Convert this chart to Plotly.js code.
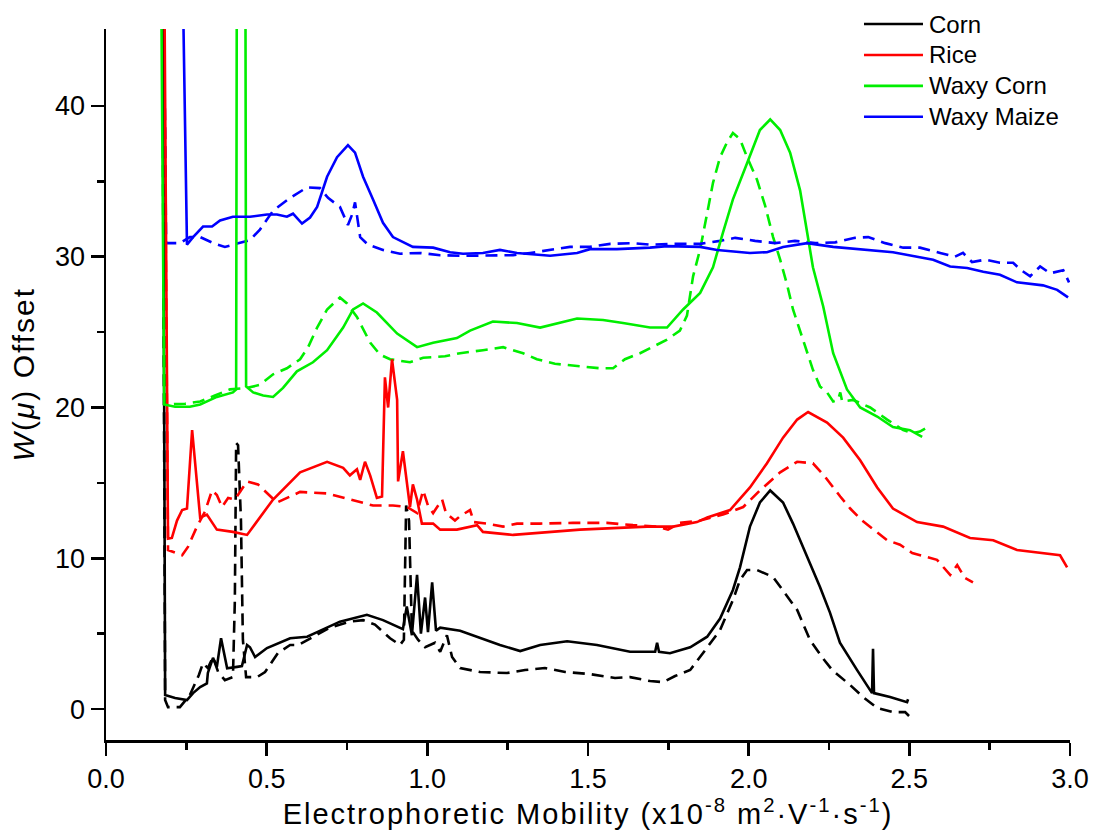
<!DOCTYPE html>
<html>
<head>
<meta charset="utf-8">
<script src="https://cdn.plot.ly/plotly-3.0.1.min.js"></script>
<style>
html,body{margin:0;padding:0;background:#fff;}
#chart{width:1093px;height:832px;}
.xtitle,.ytitle{letter-spacing:2px;}
</style>
</head>
<body>
<div id="chart"></div>
<script>
// ---------- data ----------
const seriesNames = ["Corn", "Rice", "Waxy Corn", "Waxy Maize"];

// Corn (solid)
const cornX = [0.175,0.184,0.215,0.252,0.271,0.293,0.314,0.317,0.333,0.345,0.358,0.377,0.408,0.423,0.439,0.448,0.464,0.501,0.573,0.626,0.657,0.728,0.812,0.862,0.924,0.936,0.952,0.968,0.980,0.993,1.002,1.015,1.027,1.040,1.102,1.164,1.226,1.289,1.351,1.435,1.528,1.631,1.709,1.715,1.721,1.755,1.818,1.871,1.911,1.951,1.973,2.004,2.035,2.067,2.107,2.138,2.182,2.222,2.253,2.284,2.337,2.384,2.387,2.390,2.440,2.493,2.496];
const cornY = [60,0.93,0.73,0.6,1.06,1.46,1.7,2.4,3.4,2.8,4.7,2.7,2.8,2.85,4.25,4.1,3.45,4.05,4.7,4.8,5.1,5.8,6.25,5.9,5.3,6.8,4.9,8.9,5.0,7.4,5.1,8.4,5.2,5.4,5.2,4.7,4.25,3.85,4.25,4.5,4.25,3.8,3.8,4.4,3.8,3.7,4.1,4.8,6.0,7.9,9.4,12.1,13.7,14.5,13.7,12.3,10.1,8.1,6.4,4.4,2.6,1.06,4.0,1.06,0.8,0.46,0.65];

// Corn (dashed)
const cornDashX = [0.173,0.184,0.193,0.230,0.261,0.289,0.302,0.317,0.333,0.349,0.370,0.395,0.401,0.405,0.411,0.420,0.426,0.436,0.470,0.495,0.535,0.573,0.598,0.635,0.697,0.759,0.800,0.837,0.884,0.915,0.927,0.934,0.943,0.952,0.971,0.993,1.024,1.040,1.061,1.077,1.102,1.164,1.248,1.304,1.366,1.429,1.506,1.584,1.631,1.693,1.734,1.771,1.818,1.865,1.911,1.951,1.973,1.995,2.026,2.076,2.120,2.151,2.191,2.228,2.260,2.316,2.356,2.400,2.449,2.487,2.512];
const cornDashY = [60,0.6,0.13,0.13,0.93,2.26,3.05,2.72,3.45,2.46,1.92,2.12,7.2,17.65,17.5,12.5,4.6,2.12,2.12,2.46,3.72,4.25,4.25,4.7,5.4,5.8,5.9,5.6,4.7,4.25,4.6,13.5,12.5,5.2,4.6,4.1,4.4,3.8,4.9,3.45,2.72,2.46,2.39,2.59,2.72,2.46,2.32,2.06,2.12,1.86,1.79,2.19,2.59,3.92,5.24,7.23,8.56,9.22,9.22,8.76,7.43,6.57,4.58,3.45,2.59,1.59,0.8,0.07,-0.2,-0.2,-0.73];

// Rice (solid)
const riceX = [0.178,0.193,0.205,0.221,0.237,0.252,0.268,0.283,0.293,0.314,0.345,0.395,0.439,0.520,0.604,0.688,0.738,0.759,0.781,0.791,0.806,0.822,0.843,0.859,0.868,0.878,0.890,0.906,0.909,0.924,0.937,0.946,0.955,0.968,0.983,1.018,1.040,1.092,1.155,1.173,1.267,1.373,1.475,1.578,1.684,1.765,1.839,1.871,1.942,2.004,2.057,2.107,2.151,2.185,2.244,2.294,2.347,2.400,2.449,2.524,2.605,2.689,2.761,2.835,2.916,2.969,2.991];
const riceY = [60,11.3,11.35,12.5,13.2,13.3,18.5,15.2,12.7,12.9,11.9,11.75,11.55,13.9,15.7,16.4,16.0,15.5,15.9,15.2,16.4,15.5,14.0,14.1,22.0,20.0,23.2,20.5,15.1,17.1,14.7,13.4,14.9,13.9,12.3,12.3,11.9,11.9,12.2,11.75,11.55,11.75,11.9,12.0,12.1,12.1,12.4,12.7,13.2,14.7,16.3,18.0,19.2,19.7,19.0,18.0,16.5,14.7,13.3,12.4,12.1,11.35,11.2,10.55,10.35,10.2,9.4];

// Rice (dashed)
const riceDashX = [0.176,0.193,0.237,0.255,0.283,0.308,0.330,0.345,0.361,0.380,0.401,0.439,0.473,0.501,0.532,0.573,0.604,0.688,0.744,0.791,0.831,0.893,0.937,0.968,0.987,1.002,1.018,1.046,1.058,1.086,1.102,1.133,1.145,1.186,1.236,1.279,1.351,1.453,1.559,1.640,1.715,1.749,1.786,1.849,1.920,1.983,2.035,2.098,2.151,2.200,2.238,2.285,2.316,2.353,2.400,2.431,2.471,2.509,2.586,2.627,2.649,2.673,2.698];
const riceDashY = [60,10.55,10.2,10.75,12.1,13.1,14.5,14.2,13.4,14.0,13.9,15.1,14.9,14.3,13.7,14.1,14.4,14.3,14.0,13.7,13.5,13.5,13.4,13.0,14.5,13.5,13.0,13.9,13.0,12.5,12.8,13.2,12.4,12.3,12.1,12.3,12.3,12.35,12.35,12.2,12.1,11.9,12.35,12.5,12.9,13.4,14.5,15.7,16.4,16.3,15.4,14.1,13.3,12.5,11.7,11.2,10.9,10.35,9.9,8.9,9.55,8.7,8.4];

// Waxy Corn (solid)
const waxyCornX = [0.168,0.181,0.215,0.261,0.293,0.345,0.395,0.405,0.408,0.433,0.436,0.458,0.489,0.520,0.551,0.594,0.644,0.688,0.738,0.769,0.800,0.843,0.906,0.968,1.018,1.092,1.133,1.204,1.279,1.351,1.466,1.547,1.609,1.693,1.746,1.796,1.849,1.889,1.920,1.951,1.995,2.035,2.067,2.098,2.129,2.160,2.182,2.200,2.232,2.263,2.306,2.347,2.400,2.449,2.502,2.540];
const waxyCornY = [60,20.2,20.05,20.05,20.2,20.7,21.0,21.2,60,60,21.4,21.0,20.8,20.7,21.3,22.4,23.0,23.8,25.3,26.5,26.9,26.3,24.9,24.0,24.3,24.6,25.1,25.7,25.6,25.3,25.9,25.8,25.6,25.3,25.3,26.5,27.6,29.3,31.6,33.8,36.2,38.4,39.1,38.4,36.9,34.4,31.6,29.3,26.7,23.6,21.2,20.0,19.4,18.7,18.5,18.05];

// Waxy Corn (dashed)
const waxyCornDashX = [0.174,0.187,0.246,0.293,0.339,0.386,0.439,0.479,0.520,0.563,0.604,0.629,0.657,0.688,0.728,0.750,0.781,0.822,0.853,0.884,0.946,0.987,1.055,1.102,1.173,1.236,1.298,1.341,1.397,1.485,1.538,1.578,1.615,1.662,1.746,1.786,1.808,1.827,1.849,1.871,1.889,1.911,1.933,1.951,1.973,1.995,2.026,2.051,2.076,2.098,2.120,2.138,2.160,2.182,2.200,2.222,2.244,2.263,2.278,2.285,2.291,2.325,2.347,2.378,2.431,2.481,2.509,2.533,2.549];
const waxyCornDashY = [60,20.2,20.25,20.4,20.8,21.2,21.3,21.5,22.2,22.6,23.2,24.0,25.3,26.5,27.3,26.9,26.0,24.3,23.5,23.2,23.0,23.3,23.4,23.6,23.8,24.0,23.6,23.2,22.9,22.7,22.6,22.6,23.2,23.6,24.5,25.1,26.1,28.7,30.5,32.9,34.9,36.6,37.6,38.2,37.8,36.6,35.1,33.4,31.3,29.8,28.1,26.5,25.1,23.8,22.5,21.4,21.0,20.4,20.5,21.0,20.4,20.5,20.3,20.0,19.2,18.5,18.3,18.4,18.6];

// Waxy Maize (solid)
const waxyMaizeX = [0.230,0.252,0.271,0.302,0.330,0.355,0.395,0.448,0.501,0.532,0.563,0.582,0.610,0.635,0.657,0.688,0.719,0.753,0.775,0.800,0.831,0.862,0.893,0.955,1.018,1.071,1.111,1.173,1.226,1.279,1.382,1.466,1.506,1.590,1.693,1.746,1.849,1.902,2.004,2.057,2.107,2.182,2.263,2.368,2.449,2.524,2.574,2.627,2.680,2.730,2.782,2.835,2.916,2.960,2.994];
const waxyMaizeY = [60,30.8,31.3,32.0,32.0,32.4,32.65,32.65,32.8,32.8,32.65,32.85,32.2,32.6,33.3,35.3,36.6,37.4,36.9,35.3,33.8,32.25,31.3,30.65,30.6,30.3,30.2,30.25,30.45,30.25,30.06,30.25,30.5,30.5,30.6,30.7,30.65,30.45,30.25,30.3,30.65,30.9,30.65,30.45,30.3,30.0,29.8,29.35,29.25,29.0,28.8,28.3,28.1,27.8,27.3];

// Waxy Maize (dashed)
const waxyMaizeDashX = [0.174,0.187,0.230,0.261,0.293,0.339,0.370,0.417,0.448,0.479,0.520,0.573,0.626,0.666,0.691,0.728,0.753,0.766,0.775,0.791,0.815,0.862,0.915,0.977,1.040,1.102,1.180,1.267,1.320,1.382,1.444,1.506,1.569,1.640,1.693,1.755,1.849,1.911,1.958,2.020,2.082,2.144,2.207,2.269,2.331,2.372,2.425,2.481,2.533,2.596,2.642,2.667,2.695,2.736,2.782,2.823,2.845,2.876,2.907,2.938,2.979,2.997];
const waxyMaizeDashY = [60,30.9,30.9,31.3,31.3,30.85,30.65,30.9,31.1,31.8,33.05,33.9,34.6,34.55,33.9,33.3,32.1,32.8,33.6,31.3,30.8,30.45,30.2,30.25,30.1,30.06,30.06,30.1,30.25,30.45,30.65,30.65,30.85,30.9,30.8,30.85,30.85,31.05,31.25,31.05,30.9,31.05,30.9,30.95,31.25,31.3,30.9,30.6,30.6,30.25,30.0,30.25,29.65,29.8,29.6,29.6,29.15,28.7,29.35,28.9,29.1,28.3];

const xTicks = [0, 0.5, 1.0, 1.5, 2.0, 2.5, 3.0];
const yTicks = [0, 10, 20, 30, 40];

// ---------- styling ----------
const colors = ["#000000", "#ff0000", "#00ee00", "#0000ff"];
const LW = 2.6;
const DASH = "12px,7px";
const FONT = "'Liberation Sans', Arial, sans-serif";

const solidSets = [[cornX, cornY], [riceX, riceY], [waxyCornX, waxyCornY], [waxyMaizeX, waxyMaizeY]];
const dashSets = [[cornDashX, cornDashY], [riceDashX, riceDashY], [waxyCornDashX, waxyCornDashY], [waxyMaizeDashX, waxyMaizeDashY]];

const traces = [];
dashSets.forEach((s, i) => {
  traces.push({x: s[0], y: s[1], type: "scatter", mode: "lines", showlegend: false,
    name: seriesNames[i] + " (dashed)", line: {color: colors[i], width: LW, dash: DASH}});
});
solidSets.forEach((s, i) => {
  traces.push({x: s[0], y: s[1], type: "scatter", mode: "lines", name: seriesNames[i],
    showlegend: false, line: {color: colors[i], width: LW}});
});

// legend (key lines + labels) placed in paper space at the top right
const legX0 = 0.7863, legX1 = 0.8475, legTextX = 0.8520, legTop = 1.0070, legStep = 0.0435;
const shapes = [], annotations = [];
seriesNames.forEach((n, i) => {
  const yy = legTop - i * legStep;
  shapes.push({type: "line", xref: "paper", yref: "paper", x0: legX0, x1: legX1, y0: yy, y1: yy,
    line: {color: colors[i], width: LW}});
  annotations.push({xref: "paper", yref: "paper", x: legTextX, y: yy, xanchor: "left", yanchor: "middle",
    text: n, showarrow: false, font: {family: FONT, size: 24, color: "#000"}});
});

const layout = {
  width: 1093, height: 832,
  margin: {l: 106, r: 23, t: 29, b: 92, pad: 0},
  paper_bgcolor: "#fff", plot_bgcolor: "#fff",
  font: {family: FONT, color: "#000"},
  showlegend: false,
  shapes: shapes, annotations: annotations,
  xaxis: {
    range: [0, 3.0], tickvals: xTicks, ticktext: xTicks.map(v => v.toFixed(1)),
    showgrid: false, zeroline: false, showline: true, linecolor: "#000", linewidth: 2.5,
    ticks: "outside", ticklen: 13, tickwidth: 2.5, tickcolor: "#000",
    minor: {tickvals: [0.25, 0.75, 1.25, 1.75, 2.25, 2.75], ticks: "outside", ticklen: 7, tickwidth: 2.5, tickcolor: "#000", showgrid: false},
    tickfont: {family: FONT, size: 27, color: "#000"},
    title: {text: "Electrophoretic Mobility (x10<sup>-8</sup> m<sup>2</sup>·V<sup>-1</sup>·s<sup>-1</sup>)",
      font: {family: FONT, size: 29, color: "#000"}, standoff: 10},
    automargin: false
  },
  yaxis: {
    range: [-2.05, 45.1], tickvals: yTicks,
    showgrid: false, zeroline: false, showline: true, linecolor: "#000", linewidth: 2.5,
    ticks: "outside", ticklen: 13, tickwidth: 2.5, tickcolor: "#000",
    minor: {tickvals: [5, 15, 25, 35], ticks: "outside", ticklen: 7, tickwidth: 2.5, tickcolor: "#000", showgrid: false},
    tickfont: {family: FONT, size: 27, color: "#000"},
    title: {text: "&nbsp;&nbsp;<i>W</i>(<i>μ</i>) Offset", font: {family: FONT, size: 30, color: "#000"}, standoff: 12},
    automargin: false
  }
};

Plotly.newPlot("chart", traces, layout, {displayModeBar: false, staticPlot: true});
</script>
</body>
</html>
